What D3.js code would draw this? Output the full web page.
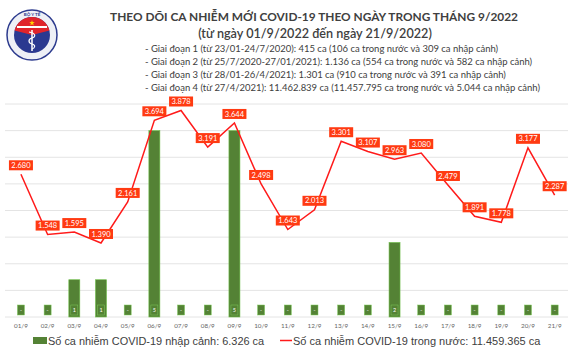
<!DOCTYPE html>
<html>
<head>
<meta charset="utf-8">
<script src="https://cdn.jsdelivr.net/npm/d3@7"></script>
<style>
  html, body { margin: 0; padding: 0; background: #fff; }
  svg { display: block; }
</style>
</head>
<body>
<div id="chart"></div>
<script>
// ---- data ----
const days = ['01/9','02/9','03/9','04/9','05/9','06/9','07/9','08/9','09/9','10/9','11/9',
              '12/9','13/9','14/9','15/9','16/9','17/9','18/9','19/9','20/9','21/9'];
const domesticCases = [2680,1548,1595,1390,2161,3694,3878,3191,3644,2498,1643,
                       2013,3301,3107,2963,3080,2479,1891,1778,3177,2287];
const importedCases = [0,0,1,1,0,5,0,0,5,0,0,0,0,0,2,0,0,0,0,0,0];
const periodNotes = [
  '- Giai đoạn 1 (từ 23/01-24/7/2020): 415 ca (106 ca trong nước và 309 ca nhập cảnh)',
  '- Giai đoạn 2 (từ 25/7/2020-27/01/2021): 1.136 ca (554 ca trong nước và 582 ca nhập cảnh)',
  '- Giai đoạn 3 (từ 28/01-26/4/2021): 1.301 ca (910 ca trong nước và 391 ca nhập cảnh)',
  '- Giai đoạn 4 (từ 27/4/2021): 11.462.839 ca (11.457.795 ca trong nước và 5.044 ca nhập cảnh)'
];
const legendLabels = ['Số ca nhiễm COVID-19 nhập cảnh: 6.326 ca', 'Số ca nhiễm COVID-19 trong nước: 11.459.365 ca'];

const W = 570, H = 350;
const GREEN = '#548235', RED = '#ff1a1a', LABEL_BG = '#ff3a12', TXT = '#404040';

const svg = d3.select('#chart').append('svg')
  .attr('width', W).attr('height', H)
  .style('font-family', 'Lato, "Open Sans", sans-serif');

// co giãn cỡ chữ cho vừa bề rộng đo trên ảnh
function fitWidth(sel, target) {
  const fs = +sel.attr('font-size');
  const w = sel.node().getComputedTextLength();
  if (w > 0) sel.attr('font-size', (fs * target / w).toFixed(2));
  return sel;
}

// ---- logo Bộ Y tế (vẽ đơn giản) ----
const logo = svg.append('g').attr('transform', 'translate(32,35)');
logo.append('circle').attr('r', 25).attr('fill', '#eef0f6').attr('stroke', '#2d3b8e').attr('stroke-width', 1.5);
logo.append('circle').attr('r', 18).attr('fill', '#2b3990');
logo.append('path')
  .attr('d', d3.arc()({ innerRadius: 0, outerRadius: 18, startAngle: -Math.PI * 0.42, endAngle: Math.PI * 0.42 }))
  .attr('fill', '#e0242b');
logo.append('rect').attr('x', -15).attr('y', -9).attr('width', 30).attr('height', 2).attr('fill', '#fff');
logo.append('path').attr('d', d3.symbol(d3.symbolStar, 10)()).attr('transform', 'translate(0,-12)').attr('fill', '#ffd200');
logo.append('line').attr('x1', 0).attr('x2', 0).attr('y1', -5).attr('y2', 16).attr('stroke', '#fff').attr('stroke-width', 1.5);
logo.append('path').attr('d', 'M-3,-3 C4,-2 4,2 0,3 C-4,4 -4,8 0,9 C4,10 3,13 0,14')
  .attr('fill', 'none').attr('stroke', '#fff').attr('stroke-width', 1.2);
logo.append('text').attr('y', -19).attr('text-anchor', 'middle').attr('font-size', 4.5)
  .attr('font-weight', 700).attr('fill', '#2b3990').text('BỘ Y TẾ');

// ---- tiêu đề ----
fitWidth(svg.append('text').attr('x', 314).attr('y', 21).attr('text-anchor', 'middle')
  .attr('font-size', 12).attr('font-weight', 700).attr('fill', TXT)
  .text('THEO DÕI CA NHIỄM MỚI COVID-19 THEO NGÀY TRONG THÁNG 9/2022'), 408);
fitWidth(svg.append('text').attr('x', 315).attr('y', 38).attr('text-anchor', 'middle')
  .attr('font-size', 12).attr('font-weight', 600).attr('fill', TXT)
  .text('(từ ngày 01/9/2022 đến ngày 21/9/2022)'), 234);
const notes = svg.append('g').selectAll('text').data(periodNotes).join('text')
  .attr('x', 145).attr('y', (d, i) => 51.5 + i * 13)
  .attr('font-size', 8.3).attr('fill', TXT).text(d => d);
fitWidth(d3.select(notes.nodes()[3]), 395);
notes.attr('font-size', d3.select(notes.nodes()[3]).attr('font-size'));

// ---- scales ----
const x = d3.scaleBand().domain(days).range([7.6, 568]);
const yLine = d3.scaleLinear().domain([0, 4000]).range([317, 104]);
const yBar = d3.scaleLinear().domain([0, 40 / 7]).range([317, 104]);
const cx = d => x(d) + x.bandwidth() / 2;

// lưới ngang
svg.append('g').selectAll('line').data(yLine.ticks(8)).join('line')
  .attr('x1', 5).attr('x2', 568)
  .attr('y1', d => yLine(d)).attr('y2', d => yLine(d))
  .attr('stroke', '#e4e4e4').attr('stroke-width', 1);

// cột nhập cảnh
const barW = 11;
svg.append('g').selectAll('rect').data(importedCases).join('rect')
  .attr('x', (d, i) => cx(days[i]) - barW / 2)
  .attr('y', d => yBar(d))
  .attr('width', barW)
  .attr('height', d => yBar(0) - yBar(d))
  .attr('fill', GREEN)
  .attr('stroke', '#6fbf4a').attr('stroke-width', 0.6)
  .attr('display', d => d > 0 ? null : 'none');

// nhãn cột (ở chân cột)
const barLab = svg.append('g').selectAll('g').data(importedCases).join('g')
  .attr('transform', (d, i) => `translate(${cx(days[i])},${yBar(0) - 7})`);
barLab.append('rect').attr('x', -3.5).attr('y', -5).attr('width', 7).attr('height', 10)
  .attr('fill', GREEN).attr('stroke', '#7cc95a').attr('stroke-width', 0.5);
barLab.append('text').attr('text-anchor', 'middle').attr('dy', '0.35em')
  .attr('font-size', 5.5).attr('fill', '#fff').text(d => d > 0 ? d : '-');

// đường trong nước
svg.append('path').datum(domesticCases)
  .attr('fill', 'none').attr('stroke', RED).attr('stroke-width', 1.5)
  .attr('d', d3.line().x((d, i) => cx(days[i])).y(d => yLine(d)));

// nhãn đường
const fmt = d => d3.format(',')(d).replace(/,/g, '.');
const lineLab = svg.append('g').selectAll('g').data(domesticCases).join('g')
  .attr('transform', (d, i) => `translate(${cx(days[i])},${yLine(d) - 9})`);
lineLab.append('rect').attr('x', -12).attr('y', -5).attr('width', 24).attr('height', 10)
  .attr('fill', LABEL_BG);
lineLab.append('text').attr('text-anchor', 'middle').attr('dy', '0.35em')
  .attr('font-size', 7.5).attr('fill', '#fff').text(fmt);

// trục x
svg.append('g').selectAll('text').data(days).join('text')
  .attr('x', d => cx(d)).attr('y', 328).attr('text-anchor', 'middle')
  .attr('font-size', 6.3).attr('fill', '#666').text(d => d);

// chú thích
const leg = svg.append('g').style('font-family', '"Liberation Sans", Arial, sans-serif');
leg.append('rect').attr('x', 33).attr('y', 337).attr('width', 14).attr('height', 7).attr('fill', GREEN);
fitWidth(leg.append('text').attr('x', 48).attr('y', 344.5).attr('font-size', 10.2).attr('fill', TXT)
  .text(legendLabels[0]), 216);
leg.append('line').attr('x1', 280).attr('x2', 292).attr('y1', 340.5).attr('y2', 340.5)
  .attr('stroke', RED).attr('stroke-width', 1.5);
fitWidth(leg.append('text').attr('x', 293).attr('y', 344.5).attr('font-size', 10.2).attr('fill', TXT)
  .text(legendLabels[1]), 247);
</script>
</body>
</html>
